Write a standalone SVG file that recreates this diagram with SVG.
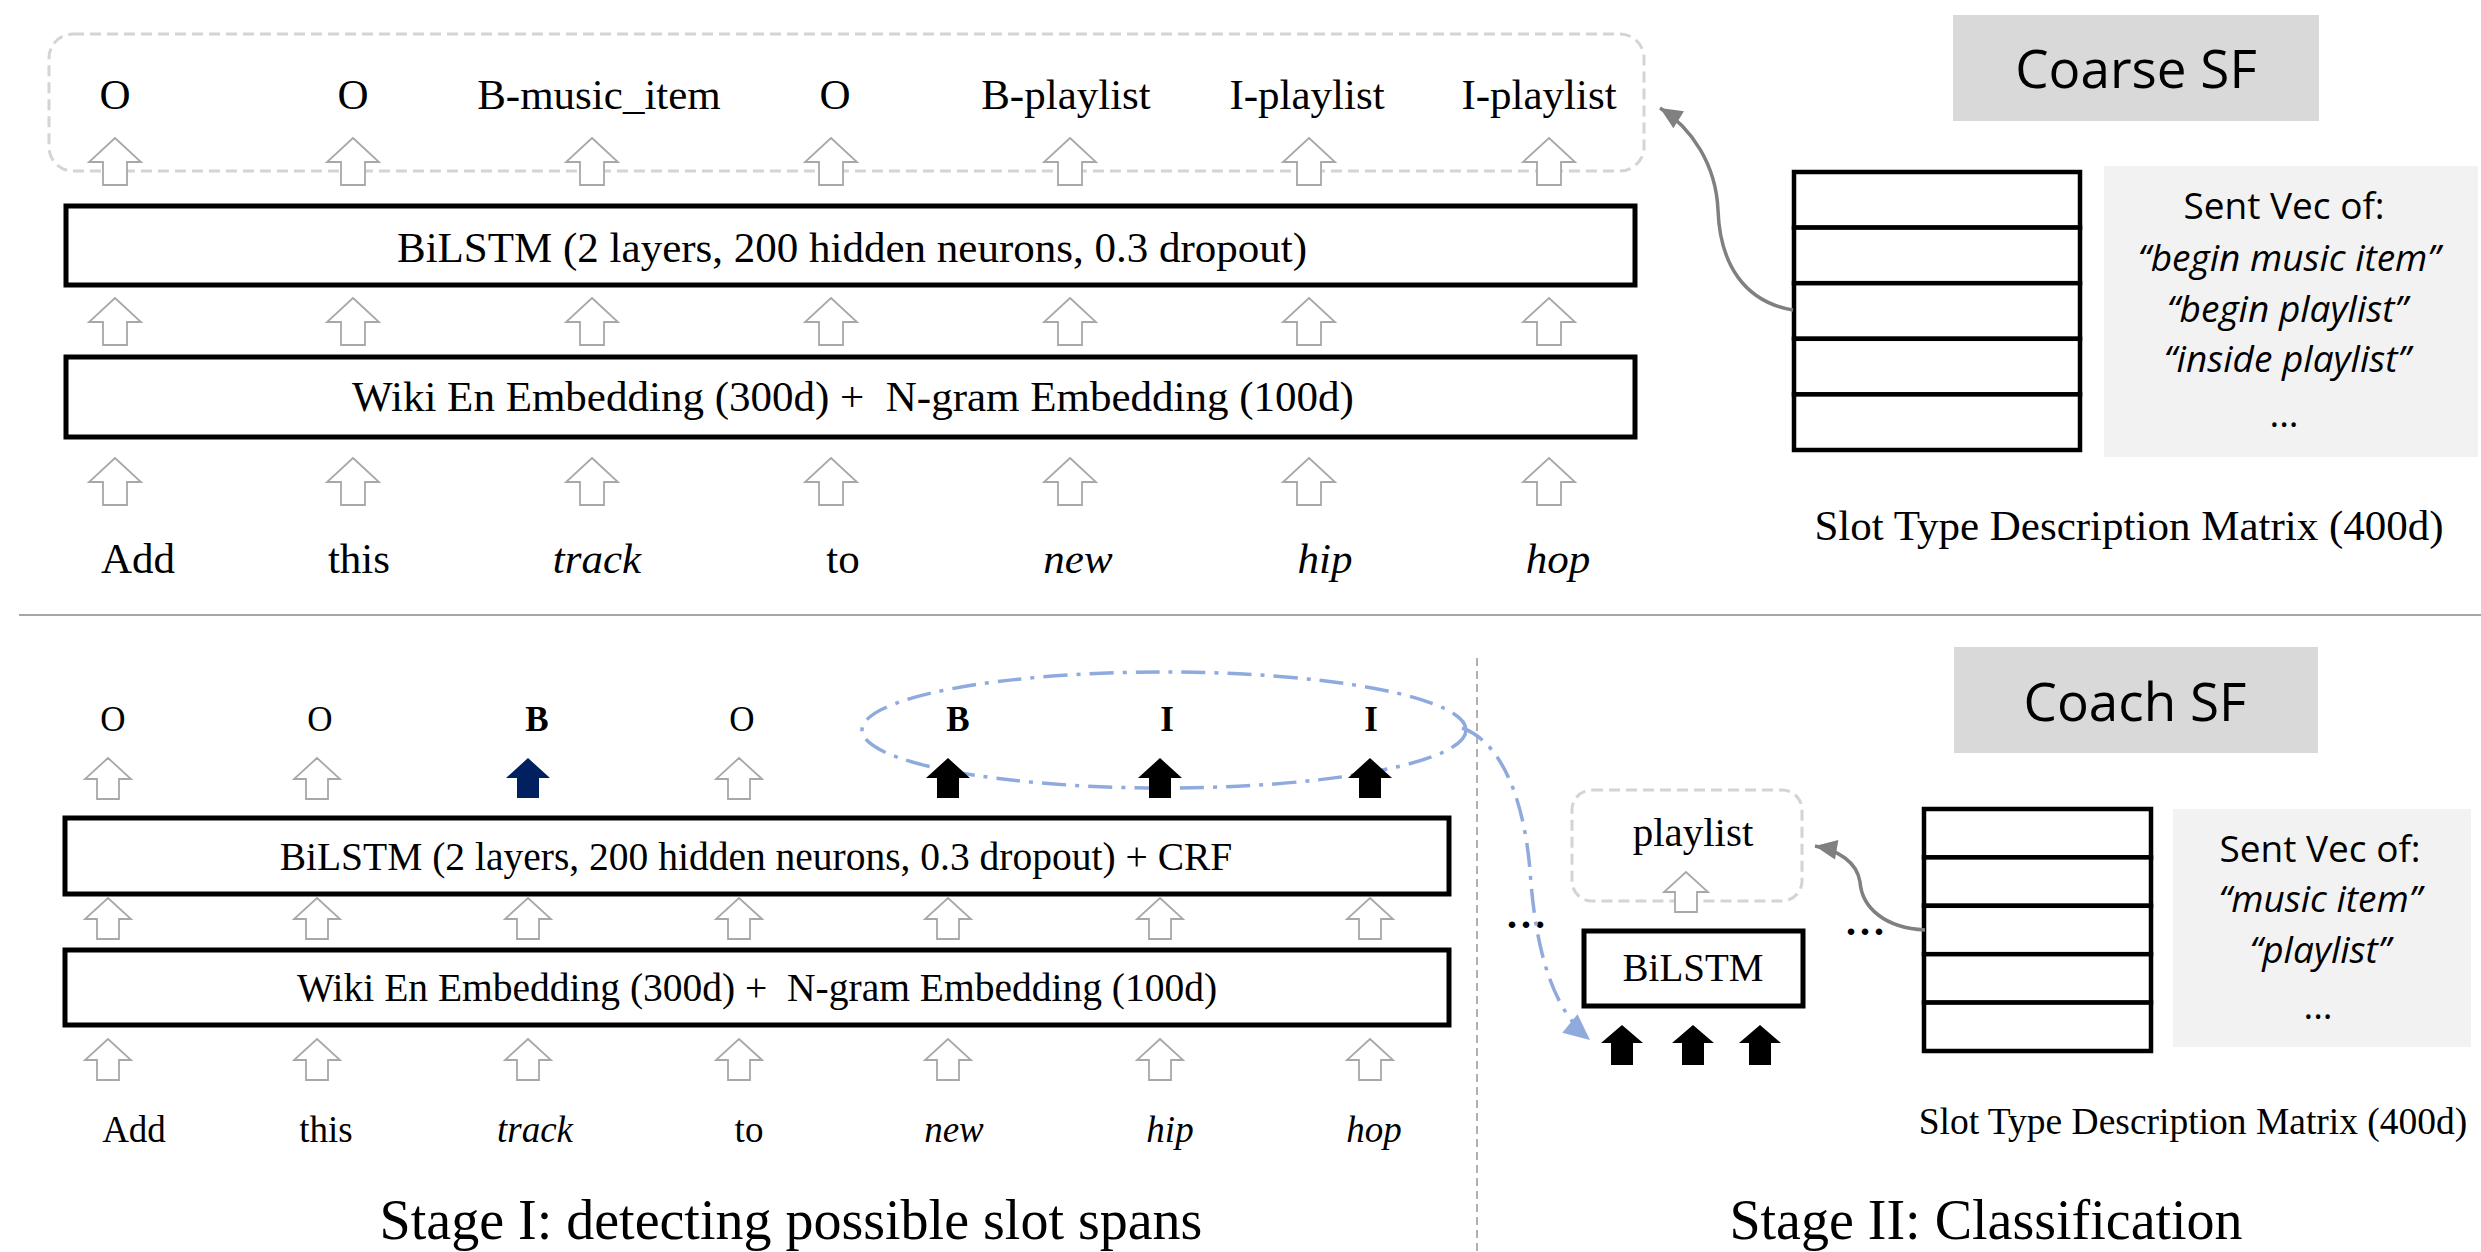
<svg xmlns="http://www.w3.org/2000/svg" width="2481" height="1252" viewBox="0 0 2481 1252">
<style>
.serif{font-family:"Liberation Serif","Times New Roman",serif;fill:#000}
.sans{font-family:"Open Sans","Noto Sans",sans-serif;fill:#000}
.it{font-style:italic}
.b{font-weight:bold}
.box{fill:#fff;stroke:#000;stroke-width:5}
.cell{fill:#fff;stroke:#000;stroke-width:4.5}
.hollow{fill:#fff;stroke:#a8a8a8;stroke-width:1.8}
.solid{fill:#000}
.dashbox{fill:none;stroke:#d4d4d4;stroke-width:3;stroke-dasharray:11 6}
.gray{fill:none;stroke:#808080;stroke-width:3.5}
.blue{fill:none;stroke:#8faadc;stroke-width:3.5;stroke-dasharray:24 9 4 9}
</style>
<defs>
<path id="hA" d="M0,0 L26,24 L12,24 L12,47 L-12,47 L-12,24 L-26,24 Z"/>
<path id="hB" d="M0,0 L23,21 L11,21 L11,41 L-11,41 L-11,21 L-23,21 Z"/>
<path id="fB" d="M0,0 L22,20 L11,20 L11,40 L-11,40 L-11,20 L-22,20 Z"/>
<path id="fC" d="M0,0 L21,18 L11,18 L11,40 L-11,40 L-11,18 L-21,18 Z"/>
<marker id="mGray" markerWidth="10" markerHeight="10" refX="8" refY="5" orient="auto" markerUnits="userSpaceOnUse" viewBox="0 0 10 10" style="overflow:visible">
<path d="M-14,-5 L8,5 L-14,15 Z" fill="#808080"/>
</marker>
<marker id="mBlue" markerWidth="10" markerHeight="10" refX="8" refY="5" orient="auto" markerUnits="userSpaceOnUse" viewBox="0 0 10 10" style="overflow:visible">
<path d="M-18,-7 L8,5 L-18,17 Z" fill="#8faadc"/>
</marker>
</defs>

<!-- separators -->
<line x1="19" y1="615" x2="2481" y2="615" stroke="#a6a6a6" stroke-width="2"/>
<line x1="1477" y1="658" x2="1477" y2="1252" stroke="#b0b0b0" stroke-width="2" stroke-dasharray="8 5"/>

<!-- ===== Coarse SF (top) ===== -->
<g id="coarse-title">
<rect x="1953" y="15" width="366" height="106" fill="#d9d9d9"/>
<text class="sans" x="2136" y="88" font-size="53" text-anchor="middle">Coarse SF</text>
</g>

<g id="coarse-output">
<rect class="dashbox" x="49" y="34" width="1595" height="137" rx="24"/>
<g class="serif" font-size="43" text-anchor="middle">
<text x="115" y="109">O</text>
<text x="353" y="109">O</text>
<text x="599" y="109">B-music_item</text>
<text x="835" y="109">O</text>
<text x="1066" y="109">B-playlist</text>
<text x="1307" y="109">I-playlist</text>
<text x="1539" y="109">I-playlist</text>
</g>
</g>

<g id="coarse-bilstm">
<rect class="box" x="66" y="206" width="1569" height="79"/>
<text class="serif" x="852" y="262" font-size="43" text-anchor="middle">BiLSTM (2 layers, 200 hidden neurons, 0.3 dropout)</text>
</g>

<g id="coarse-embedding">
<rect class="box" x="66" y="357" width="1569" height="80"/>
<text class="serif" x="853" y="411" font-size="43" text-anchor="middle" xml:space="preserve">Wiki En Embedding (300d) +  N-gram Embedding (100d)</text>
</g>

<g id="coarse-words" class="serif" font-size="43" text-anchor="middle">
<text x="138" y="573">Add</text>
<text x="359" y="573">this</text>
<text class="it" x="597" y="573">track</text>
<text x="843" y="573">to</text>
<text class="it" x="1078" y="573">new</text>
<text class="it" x="1325" y="573">hip</text>
<text class="it" x="1558" y="573">hop</text>
</g>

<g id="coarse-matrix">
<rect class="cell" x="1794" y="172" width="286" height="55.6"/>
<rect class="cell" x="1794" y="227.6" width="286" height="55.6"/>
<rect class="cell" x="1794" y="283.2" width="286" height="55.6"/>
<rect class="cell" x="1794" y="338.8" width="286" height="55.6"/>
<rect class="cell" x="1794" y="394.4" width="286" height="55.6"/>
<text class="serif" x="2129" y="540" font-size="43" text-anchor="middle">Slot Type Description Matrix (400d)</text>
</g>

<g id="coarse-sentvec">
<rect x="2104" y="166" width="374" height="291" fill="#f2f2f2"/>
<g class="sans" font-size="37" text-anchor="middle">
<text x="2284" y="219">Sent Vec of:</text>
<text class="it" x="2289" y="271">“begin music item”</text>
<text class="it" x="2287" y="322">“begin playlist”</text>
<text class="it" x="2287" y="372">“inside playlist”</text>
<text x="2284" y="427">...</text>
</g>
</g>

<!-- ===== Coach SF (bottom) ===== -->
<g id="coach-title">
<rect x="1954" y="647" width="364" height="106" fill="#d9d9d9"/>
<text class="sans" x="2135" y="721" font-size="53" text-anchor="middle">Coach SF</text>
</g>

<g id="stage1-labels" class="serif" font-size="35" text-anchor="middle">
<text x="113" y="731">O</text>
<text x="320" y="731">O</text>
<text class="b" x="537" y="731">B</text>
<text x="742" y="731">O</text>
<text class="b" x="958" y="731">B</text>
<text class="b" x="1167" y="731">I</text>
<text class="b" x="1371" y="731">I</text>
</g>

<g id="stage1-bilstm-crf">
<rect class="box" x="65" y="818" width="1384" height="76"/>
<text class="serif" x="756" y="870" font-size="39.5" text-anchor="middle">BiLSTM (2 layers, 200 hidden neurons, 0.3 dropout) + CRF</text>
</g>

<g id="stage1-embedding">
<rect class="box" x="65" y="950" width="1384" height="75"/>
<text class="serif" x="757" y="1001" font-size="39.5" text-anchor="middle" xml:space="preserve">Wiki En Embedding (300d) +  N-gram Embedding (100d)</text>
</g>

<g id="stage1-words" class="serif" font-size="37" text-anchor="middle">
<text x="134" y="1142">Add</text>
<text x="326" y="1142">this</text>
<text class="it" x="535" y="1142">track</text>
<text x="749" y="1142">to</text>
<text class="it" x="954" y="1142">new</text>
<text class="it" x="1170" y="1142">hip</text>
<text class="it" x="1374" y="1142">hop</text>
</g>

<g id="span-ellipse">
<ellipse class="blue" cx="1164" cy="730" rx="302" ry="58"/>
</g>

<g id="stage2-playlist">
<rect class="dashbox" x="1572" y="790" width="230" height="111" rx="20"/>
<text class="serif" x="1693" y="846" font-size="41" text-anchor="middle">playlist</text>
</g>

<g id="stage2-bilstm">
<rect class="box" x="1584" y="931" width="219" height="75" stroke-width="4"/>
<text class="serif" x="1693" y="981" font-size="39" text-anchor="middle">BiLSTM</text>
</g>

<g id="coach-matrix">
<rect class="cell" x="1924" y="809" width="227" height="48.4"/>
<rect class="cell" x="1924" y="857.4" width="227" height="48.4"/>
<rect class="cell" x="1924" y="905.8" width="227" height="48.4"/>
<rect class="cell" x="1924" y="954.2" width="227" height="48.4"/>
<rect class="cell" x="1924" y="1002.6" width="227" height="48.4"/>
<text class="serif" x="2193" y="1134" font-size="37.5" text-anchor="middle">Slot Type Description Matrix (400d)</text>
</g>

<g id="coach-sentvec">
<rect x="2173" y="809" width="298" height="238" fill="#f2f2f2"/>
<g class="sans" font-size="37" text-anchor="middle">
<text x="2320" y="862">Sent Vec of:</text>
<text class="it" x="2320" y="912">“music item”</text>
<text class="it" x="2320" y="963">“playlist”</text>
<text x="2318" y="1019">...</text>
</g>
</g>

<g id="ellipses-dots" class="serif b" font-size="40">
<text x="1507" y="928" letter-spacing="4">...</text>
<text x="1846" y="935" letter-spacing="4">...</text>
</g>

<g id="stage-captions" class="serif" font-size="56" text-anchor="middle">
<text x="791" y="1239">Stage I: detecting possible slot spans</text>
<text x="1986" y="1239">Stage II: Classification</text>
</g>

<!-- ===== connectors ===== -->
<g id="connectors">
<!-- top hollow arrows -->
<g class="hollow">
<use href="#hA" x="115" y="138"/><use href="#hA" x="353" y="138"/><use href="#hA" x="592" y="138"/><use href="#hA" x="831" y="138"/><use href="#hA" x="1070" y="138"/><use href="#hA" x="1309" y="138"/><use href="#hA" x="1549" y="138"/>
<use href="#hA" x="115" y="298"/><use href="#hA" x="353" y="298"/><use href="#hA" x="592" y="298"/><use href="#hA" x="831" y="298"/><use href="#hA" x="1070" y="298"/><use href="#hA" x="1309" y="298"/><use href="#hA" x="1549" y="298"/>
<use href="#hA" x="115" y="458"/><use href="#hA" x="353" y="458"/><use href="#hA" x="592" y="458"/><use href="#hA" x="831" y="458"/><use href="#hA" x="1070" y="458"/><use href="#hA" x="1309" y="458"/><use href="#hA" x="1549" y="458"/>
</g>
<!-- bottom hollow arrows -->
<g class="hollow">
<use href="#hB" x="108" y="758"/><use href="#hB" x="317" y="758"/><use href="#hB" x="739" y="758"/>
<use href="#hB" x="108" y="898"/><use href="#hB" x="317" y="898"/><use href="#hB" x="528" y="898"/><use href="#hB" x="739" y="898"/><use href="#hB" x="948" y="898"/><use href="#hB" x="1160" y="898"/><use href="#hB" x="1370" y="898"/>
<use href="#hB" x="108" y="1039"/><use href="#hB" x="317" y="1039"/><use href="#hB" x="528" y="1039"/><use href="#hB" x="739" y="1039"/><use href="#hB" x="948" y="1039"/><use href="#hB" x="1160" y="1039"/><use href="#hB" x="1370" y="1039"/>
<path d="M1686,872 L1708,892 L1697,892 L1697,912 L1675,912 L1675,892 L1664,892 Z"/>
</g>
<!-- filled arrows -->
<use href="#fB" x="528" y="758" fill="#002060"/>
<use href="#fB" x="948" y="758" class="solid"/>
<use href="#fB" x="1160" y="758" class="solid"/>
<use href="#fB" x="1370" y="758" class="solid"/>
<use href="#fC" x="1622" y="1025" class="solid"/>
<use href="#fC" x="1693" y="1025" class="solid"/>
<use href="#fC" x="1760" y="1025" class="solid"/>
<!-- curved gray arrows -->
<path class="gray" d="M1793,310 C1745,302 1720,265 1718,210 C1716,165 1692,128 1660,108" marker-end="url(#mGray)"/>
<path class="gray" d="M1925,930 C1885,928 1862,908 1860,882 C1857,862 1838,850 1815,846" marker-end="url(#mGray)"/>
<!-- dash-dot span arrow -->
<path class="blue" d="M1462,728 C1502,742 1524,800 1530,870 C1536,960 1556,1012 1590,1040" marker-end="url(#mBlue)"/>
</g>
</svg>
